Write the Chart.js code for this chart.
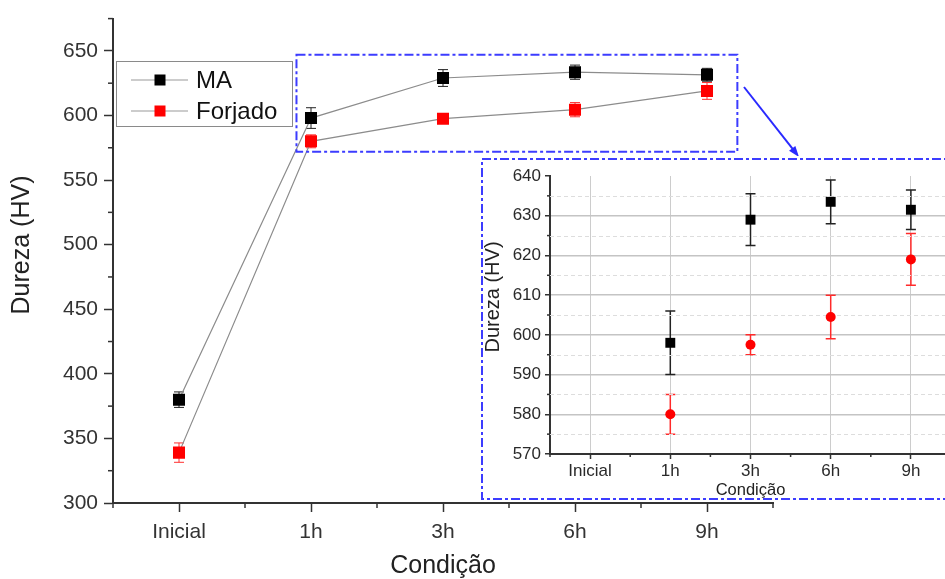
<!DOCTYPE html>
<html>
<head>
<meta charset="utf-8">
<script src="https://cdn.jsdelivr.net/npm/chart.js@4/dist/chart.umd.min.js"></script>
<style>
    html, body { margin: 0; padding: 0; background: #fff; overflow: hidden; }
    #wrap { position: relative; width: 945px; height: 579px; overflow: hidden; }
    #mainChart { position: absolute; left: 0; top: 0; }
    #insetBox { position: absolute; left: 479px; top: 156px; width: 480px; height: 345px; }
</style>
</head>
<body>
<div id="wrap">
    <canvas id="mainChart" width="945" height="579"></canvas>
    <div id="insetBox"><canvas id="insetChart" width="480" height="345"></canvas></div>
</div>
<script>
// dados
const categories = ['Inicial', '1h', '3h', '6h', '9h'];
const maValues = [380, 598, 629, 633.5, 631.5];
const maErrors = [6, 8, 6.5, 5.5, 5];
const forjadoValues = [339, 580, 597.5, 604.5, 619];
const forjadoErrors = [7.5, 5, 2.5, 5.5, 6.5];

const mainYTicks = [300, 350, 400, 450, 500, 550, 600, 650];
const insetYTicks = [570, 580, 590, 600, 610, 620, 630, 640];

const FONT = '"Liberation Sans", Arial, sans-serif';
Chart.defaults.font.family = FONT;
Chart.defaults.color = '#222';

function toPoints(values, errors) {
    return values.map((v, i) => ({ x: i, y: v, err: errors[i] }));
}

// barras de erro (desenhadas atrás dos marcadores)
const errorBars = {
    id: 'errorBars',
    beforeDatasetsDraw(chart, args, opts) {
        const { ctx, scales: { x, y } } = chart;
        chart.data.datasets.forEach(ds => {
            ctx.save();
            ctx.strokeStyle = ds.errorColor;
            ctx.lineWidth = opts.width;
            ds.data.forEach(p => {
                const px = x.getPixelForValue(p.x);
                const top = y.getPixelForValue(p.y + p.err);
                const bot = y.getPixelForValue(p.y - p.err);
                ctx.beginPath();
                ctx.moveTo(px, top); ctx.lineTo(px, bot);
                ctx.moveTo(px - opts.cap, top); ctx.lineTo(px + opts.cap, top);
                ctx.moveTo(px - opts.cap, bot); ctx.lineTo(px + opts.cap, bot);
                ctx.stroke();
            });
            ctx.restore();
        });
    }
};

// ticks menores, grade tracejada e título do eixo y
const axisExtras = {
    id: 'axisExtras',
    beforeDatasetsDraw(chart, args, opts) {
        if (!opts.minorGrid) return;
        const { ctx, chartArea, scales: { y } } = chart;
        ctx.save();
        ctx.strokeStyle = opts.minorGrid.color;
        ctx.lineWidth = 1;
        ctx.setLineDash(opts.minorGrid.dash);
        opts.minorGrid.values.forEach(v => {
            const py = Math.round(y.getPixelForValue(v)) + 0.5;
            ctx.beginPath(); ctx.moveTo(chartArea.left, py); ctx.lineTo(chartArea.right, py); ctx.stroke();
        });
        ctx.restore();
    },
    afterDraw(chart, args, opts) {
        const { ctx, scales: { x, y } } = chart;
        ctx.save();
        ctx.strokeStyle = '#333';
        ctx.lineWidth = opts.tickWidth;
        opts.xMinor.forEach(v => {
            const px = x.getPixelForValue(v);
            ctx.beginPath(); ctx.moveTo(px, x.top); ctx.lineTo(px, x.top + opts.minorLength); ctx.stroke();
        });
        opts.yMinor.forEach(v => {
            const py = y.getPixelForValue(v);
            ctx.beginPath(); ctx.moveTo(y.right, py); ctx.lineTo(y.right - opts.minorLength, py); ctx.stroke();
        });
        ctx.translate(opts.titleX, opts.titleY);
        ctx.rotate(-Math.PI / 2);
        ctx.fillStyle = '#222';
        ctx.font = opts.titleSize + 'px ' + FONT;
        ctx.textAlign = 'center';
        ctx.textBaseline = 'middle';
        ctx.fillText(opts.titleText, 0, 0);
        ctx.restore();
    }
};

// legenda com caixa, retângulo de zoom e seta
const mainDecor = {
    id: 'mainDecor',
    afterDraw(chart) {
        const { ctx, scales: { x, y } } = chart;
        ctx.save();
        ctx.strokeStyle = '#8a8a8a';
        ctx.lineWidth = 1;
        ctx.strokeRect(116.5, 61.5, 176, 65);
        chart.data.datasets.forEach((ds, i) => {
            const ry = 80 + i * 31;
            ctx.strokeStyle = '#999';
            ctx.beginPath(); ctx.moveTo(131, ry); ctx.lineTo(188, ry); ctx.stroke();
            ctx.fillStyle = ds.pointBackgroundColor;
            ctx.fillRect(154.5, ry - 5.5, 11, 11);
            ctx.fillStyle = '#111';
            ctx.font = '24px ' + FONT;
            ctx.textBaseline = 'middle';
            ctx.fillText(ds.label, 196, ry + 1);
        });

        // retângulo tracejado da região ampliada
        const x0 = x.getPixelForValue(0.89), x1 = x.getPixelForValue(4.23);
        const y0 = y.getPixelForValue(647), y1 = y.getPixelForValue(572);
        ctx.strokeStyle = '#3c3cff';
        ctx.lineWidth = 2;
        ctx.setLineDash([9, 3, 3, 3]);
        ctx.strokeRect(x0, y0, x1 - x0, y1 - y0);
        ctx.setLineDash([]);

        // seta
        const ax = 744, ay = 87, bx = 799, by = 157;
        const ang = Math.atan2(by - ay, bx - ax);
        ctx.strokeStyle = '#2a2aff';
        ctx.fillStyle = '#2a2aff';
        ctx.beginPath(); ctx.moveTo(ax, ay);
        ctx.lineTo(bx - 8 * Math.cos(ang), by - 8 * Math.sin(ang)); ctx.stroke();
        ctx.beginPath();
        ctx.moveTo(bx, by);
        ctx.lineTo(bx - 11 * Math.cos(ang) + 4 * Math.sin(ang), by - 11 * Math.sin(ang) - 4 * Math.cos(ang));
        ctx.lineTo(bx - 11 * Math.cos(ang) - 4 * Math.sin(ang), by - 11 * Math.sin(ang) + 4 * Math.cos(ang));
        ctx.closePath(); ctx.fill();
        ctx.restore();
    }
};

const insetFrame = {
    id: 'insetFrame',
    beforeDraw(chart) {
        const { ctx, width, height } = chart;
        ctx.save();
        ctx.fillStyle = '#fff';
        ctx.fillRect(0, 0, width, height);
        ctx.restore();
    },
    afterDraw(chart) {
        const { ctx, width } = chart;
        ctx.save();
        ctx.strokeStyle = '#3c3cff';
        ctx.lineWidth = 2;
        ctx.setLineDash([9, 3, 3, 3]);
        ctx.beginPath();
        ctx.moveTo(width, 3); ctx.lineTo(3, 3); ctx.lineTo(3, 343); ctx.lineTo(width, 343);
        ctx.stroke();
        ctx.restore();
    }
};

const halfSteps = [-0.5, 0.5, 1.5, 2.5, 3.5, 4.5];

new Chart(document.getElementById('mainChart'), {
    type: 'line',
    data: {
        datasets: [
            {
                label: 'MA',
                data: toPoints(maValues, maErrors),
                borderColor: '#8c8c8c', borderWidth: 1.2,
                pointStyle: 'rect', pointRadius: 8.5,
                pointBackgroundColor: '#000', pointBorderColor: '#000', pointBorderWidth: 0,
                errorColor: '#222'
            },
            {
                label: 'Forjado',
                data: toPoints(forjadoValues, forjadoErrors),
                borderColor: '#8c8c8c', borderWidth: 1.2,
                pointStyle: 'rect', pointRadius: 8.5,
                pointBackgroundColor: '#ff0000', pointBorderColor: '#ff0000', pointBorderWidth: 0,
                errorColor: '#ff3030'
            }
        ]
    },
    options: {
        responsive: false,
        devicePixelRatio: 1,
        animation: false,
        layout: { padding: { top: 18, right: 172, left: 0, bottom: 0 } },
        scales: {
            x: {
                type: 'linear', min: -0.5, max: 4.5,
                afterFit: s => { s.height = 76; },
                afterBuildTicks: s => { s.ticks = categories.map((c, i) => ({ value: i })); },
                ticks: { callback: v => categories[v], font: { size: 21 }, color: '#333', padding: 8, maxRotation: 0 },
                grid: { drawOnChartArea: false, tickLength: 9, tickColor: '#333', tickWidth: 1.5 },
                border: { color: '#333', width: 2 },
                title: { display: true, text: 'Condição', font: { size: 25, lineHeight: 1.1 }, color: '#222', padding: { top: 0, bottom: -1 } }
            },
            y: {
                min: 300, max: 675,
                afterFit: s => { s.width = 113; },
                afterBuildTicks: s => { s.ticks = mainYTicks.map(v => ({ value: v })); },
                ticks: { font: { size: 21 }, color: '#333', padding: 6 },
                grid: { drawOnChartArea: false, tickLength: 9, tickColor: '#333', tickWidth: 1.5 },
                border: { color: '#333', width: 2 }
            }
        },
        plugins: {
            legend: { display: false },
            tooltip: { enabled: false },
            errorBars: { width: 1, cap: 5 },
            axisExtras: {
                xMinor: halfSteps,
                yMinor: [325, 375, 425, 475, 525, 575, 625, 675],
                minorLength: 5, tickWidth: 1.5,
                titleX: 22, titleY: 245, titleSize: 25, titleText: 'Dureza (HV)'
            }
        }
    },
    plugins: [errorBars, axisExtras, mainDecor]
});

new Chart(document.getElementById('insetChart'), {
    type: 'line',
    data: {
        datasets: [
            {
                label: 'MA',
                data: toPoints(maValues, maErrors).slice(1),
                showLine: false,
                pointStyle: 'rect', pointRadius: 7,
                pointBackgroundColor: '#000', pointBorderColor: '#000', pointBorderWidth: 0,
                errorColor: '#222'
            },
            {
                label: 'Forjado',
                data: toPoints(forjadoValues, forjadoErrors).slice(1),
                showLine: false,
                pointStyle: 'circle', pointRadius: 5,
                pointBackgroundColor: '#ff0000', pointBorderColor: '#ff0000', pointBorderWidth: 0,
                errorColor: '#ff2a2a'
            }
        ]
    },
    options: {
        responsive: false,
        devicePixelRatio: 1,
        animation: false,
        layout: { padding: { top: 20, right: 8, left: 0, bottom: 0 } },
        scales: {
            x: {
                type: 'linear', min: -0.5, max: 4.5,
                afterFit: s => { s.height = 47; },
                afterBuildTicks: s => { s.ticks = categories.map((c, i) => ({ value: i })); },
                ticks: { callback: v => categories[v], font: { size: 17 }, color: '#2a2a2a', padding: 2, maxRotation: 0 },
                grid: { color: '#cccccc', lineWidth: 1, tickLength: 5, tickColor: '#333', tickWidth: 1.5 },
                border: { color: '#333', width: 2 },
                title: { display: true, text: 'Condição', font: { size: 16.5, lineHeight: 1.2 }, color: '#222', padding: { top: 0, bottom: 1 } }
            },
            y: {
                min: 570, max: 640,
                afterFit: s => { s.width = 71; },
                afterBuildTicks: s => { s.ticks = insetYTicks.map(v => ({ value: v })); },
                ticks: { font: { size: 17 }, color: '#2a2a2a', padding: 4 },
                grid: {
                    color: ctx => (ctx.tick && ctx.tick.value === 640) ? 'rgba(0,0,0,0)' : '#c4c4c4',
                    lineWidth: 1.5, tickLength: 5, tickColor: '#333', tickWidth: 1.5
                },
                border: { color: '#333', width: 2 }
            }
        },
        plugins: {
            legend: { display: false },
            tooltip: { enabled: false },
            errorBars: { width: 1.5, cap: 5 },
            axisExtras: {
                xMinor: halfSteps,
                yMinor: [575, 585, 595, 605, 615, 625, 635],
                minorLength: 3, tickWidth: 1.5,
                minorGrid: { values: [575, 585, 595, 605, 615, 625, 635], color: '#dddddd', dash: [4, 3] },
                titleX: 14, titleY: 141, titleSize: 20, titleText: 'Dureza (HV)'
            }
        }
    },
    plugins: [insetFrame, errorBars, axisExtras]
});
</script>
</body>
</html>
